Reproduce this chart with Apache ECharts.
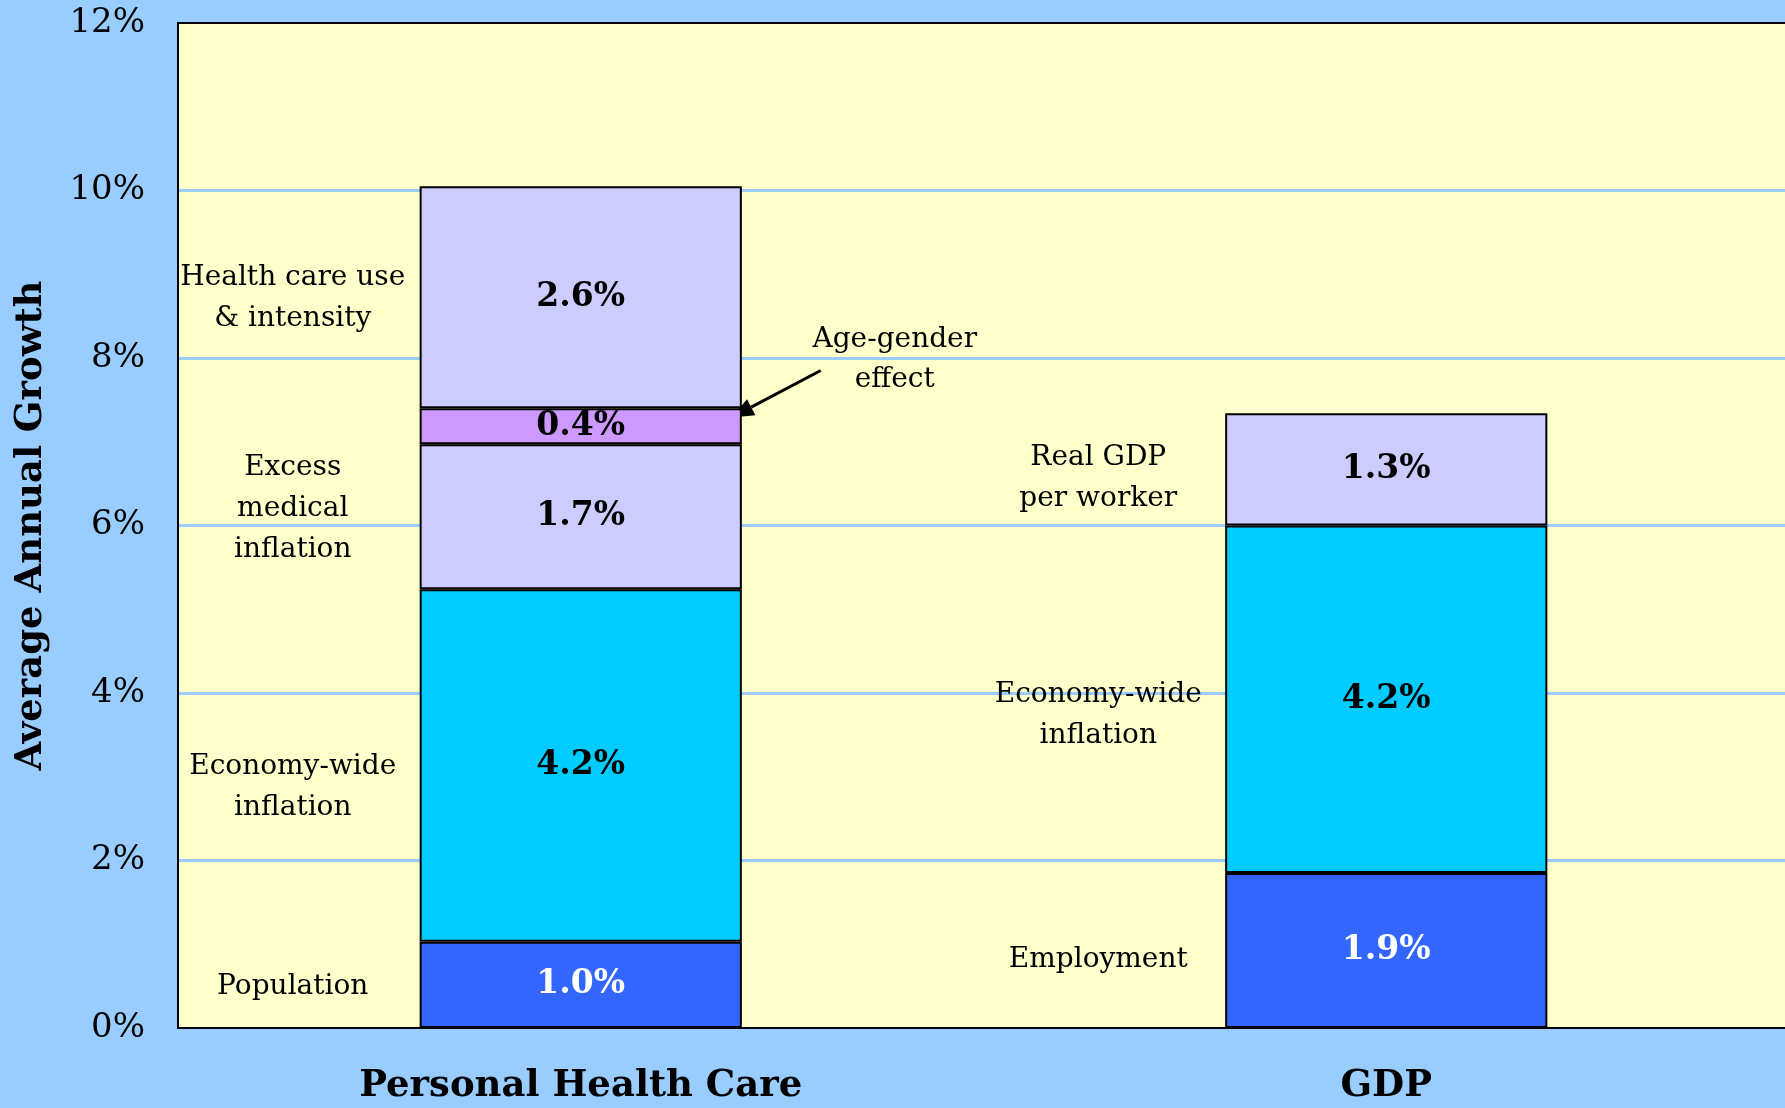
<!DOCTYPE html>
<html>
<head>
<meta charset="utf-8">
<script src="https://cdn.jsdelivr.net/npm/echarts@6/dist/echarts.min.js"></script>
<style>
html, body { margin: 0; padding: 0; background: #99ccff; }
#container { width: 1785px; height: 1108px; }
</style>
</head>
<body>
<div id="container"></div>
<script>
var categories = ['Personal Health Care', 'GDP'];
// stacked segments, bottom to top
var baseGrowth = [1.03, 1.85];     // Population / Employment
var inflation = [4.21, 4.15];      // Economy-wide inflation
var excessGrowth = [1.73, 1.34];   // Excess medical inflation / Real GDP per worker
var ageGender = [0.43, '-'];
var useIntensity = [2.65, '-'];
// printed values inside the bars
var baseLabels = ['1.0%', '1.9%'];
var inflationLabels = ['4.2%', '4.2%'];
var excessLabels = ['1.7%', '1.3%'];
var ageLabels = ['0.4%', ''];
var useLabels = ['2.6%', ''];

// side notes: category, level (%) and text
var notes = [
    {cat: 0, at: 8.71, text: 'Health care use\n& intensity'},
    {cat: 0, at: 6.20, text: 'Excess\nmedical\ninflation'},
    {cat: 0, at: 2.88, text: 'Economy-wide\ninflation'},
    {cat: 0, at: 0.49, text: 'Population'},
    {cat: 1, at: 6.56, text: 'Real GDP\nper worker'},
    {cat: 1, at: 3.73, text: 'Economy-wide\ninflation'},
    {cat: 1, at: 0.81, text: 'Employment'}
];

var serif = '"DejaVu Serif", "Liberation Serif", serif';

var dom = document.getElementById('container');
var myChart = echarts.init(dom);

function seg(name, data, labels, color, textColor) {
    return {
        name: name,
        type: 'bar',
        stack: 'total',
        barWidth: '40%',
        data: data,
        itemStyle: {color: color, borderColor: '#000', borderWidth: 2},
        label: {
            show: true,
            position: 'inside',
            fontFamily: serif,
            fontWeight: 'bold',
            fontSize: 33,
            color: textColor,
            formatter: function (p) { return labels[p.dataIndex]; }
        },
        emphasis: {disabled: true}
    };
}

myChart.setOption({
    backgroundColor: '#99ccff',
    animation: false,
    grid: {
        left: 178, top: 23, right: -4, bottom: 80,
        containLabel: false,
        outerBoundsMode: 'none',
        show: true,
        backgroundColor: '#ffffcc',
        borderColor: '#000',
        borderWidth: 2
    },
    xAxis: {
        type: 'category',
        data: categories,
        axisTick: {show: false},
        axisLine: {lineStyle: {color: '#000', width: 2}},
        axisLabel: {
            margin: 40,
            fontFamily: serif,
            fontWeight: 'bold',
            fontSize: 37,
            color: '#000'
        }
    },
    yAxis: {
        type: 'value',
        min: 0,
        max: 12,
        interval: 2,
        name: 'Average Annual Growth',
        nameLocation: 'middle',
        nameGap: 128,
        nameTextStyle: {fontFamily: serif, fontWeight: 'bold', fontSize: 37, color: '#000'},
        axisLine: {show: true, lineStyle: {color: '#000', width: 2}},
        axisTick: {show: false},
        axisLabel: {
            margin: 33,
            formatter: '{value}%',
            fontFamily: serif,
            fontSize: 34,
            color: '#000'
        },
        splitLine: {
            show: true,
            showMinLine: false,
            showMaxLine: false,
            lineStyle: {color: '#99ccff', width: 3}
        }
    },
    series: [
        seg('Population', baseGrowth, baseLabels, '#3366ff', '#fff'),
        seg('Economy-wide inflation', inflation, inflationLabels, '#00ccff', '#000'),
        seg('Excess medical inflation', excessGrowth, excessLabels, '#ccccff', '#000'),
        seg('Age-gender effect', ageGender, ageLabels, '#cc99ff', '#000'),
        seg('Health care use & intensity', useIntensity, useLabels, '#ccccff', '#000')
    ]
});

// notes and arrow placed from the axes
var graphics = [];
notes.forEach(function (n) {
    graphics.push({
        type: 'text',
        x: myChart.convertToPixel({xAxisIndex: 0}, n.cat) - 288,
        y: myChart.convertToPixel({yAxisIndex: 0}, n.at),
        style: {
            text: n.text,
            align: 'center',
            verticalAlign: 'middle',
            fontFamily: serif,
            fontSize: 28,
            lineHeight: 41,
            fill: '#000'
        }
    });
});

var cx = myChart.convertToPixel({xAxisIndex: 0}, 0);
var tipX = cx + 151;
var tipY = myChart.convertToPixel({yAxisIndex: 0}, 7.29);
var startX = tipX + 89, startY = tipY - 47;
var dx = tipX - startX, dy = tipY - startY;
var len = Math.sqrt(dx * dx + dy * dy);
dx /= len; dy /= len;
var bx = tipX - dx * 22, by = tipY - dy * 22;
graphics.push({
    type: 'line',
    shape: {x1: startX, y1: startY, x2: bx, y2: by},
    style: {stroke: '#000', lineWidth: 3}
});
graphics.push({
    type: 'polygon',
    shape: {points: [[tipX, tipY], [bx - dy * 9, by + dx * 9], [bx + dy * 9, by - dx * 9]]},
    style: {fill: '#000'}
});
graphics.push({
    type: 'text',
    x: cx + 314,
    y: myChart.convertToPixel({yAxisIndex: 0}, 7.98),
    style: {
        text: 'Age-gender\neffect',
        align: 'center',
        verticalAlign: 'middle',
        fontFamily: serif,
        fontSize: 28,
        lineHeight: 40,
        fill: '#000'
    }
});
myChart.setOption({graphic: graphics});
</script>
</body>
</html>
